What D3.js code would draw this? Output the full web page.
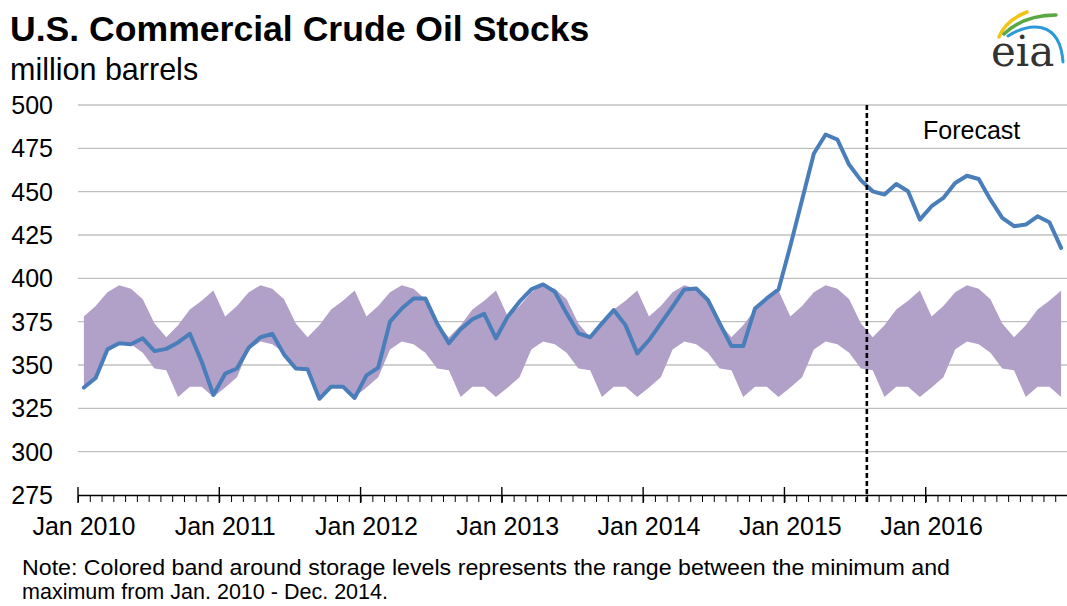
<!DOCTYPE html>
<html>
<head>
<meta charset="utf-8">
<script src="https://cdn.jsdelivr.net/npm/d3@7"></script>
<style>
  html, body { margin: 0; padding: 0; background: #fff; }
  svg { display: block; font-family: Arial, "Liberation Sans", sans-serif; }
</style>
</head>
<body>
<svg id="chart" width="1067" height="606"></svg>
<script>
// ---------------- DATA ----------------
const years = [2010, 2011, 2012, 2013, 2014, 2015, 2016];
const monthNames = ["Jan","Feb","Mar","Apr","May","Jun","Jul","Aug","Sep","Oct","Nov","Dec"];
const months = years.flatMap(yr => monthNames.map(m => m + " " + yr));

// U.S. commercial crude oil stocks (million barrels), Jan 2010 - Dec 2016
const stocks = [
  337.0, 342.5, 359.0, 362.5, 362.0, 365.4, 358.0, 359.3, 363.0, 368.0, 352.0, 332.7,
  345.0, 348.0, 360.0, 366.0, 368.0, 356.0, 348.0, 347.5, 330.5, 337.5, 337.5, 331.0,
  344.0, 348.5, 375.0, 382.6, 388.4, 388.4, 374.0, 362.5, 370.6, 376.4, 379.5, 365.4,
  377.9, 386.5, 393.6, 396.5, 392.3, 379.8, 368.3, 366.0, 374.0, 381.7, 373.0, 356.7,
  364.4, 374.0, 383.7, 393.6, 394.2, 387.5, 374.0, 360.9, 360.9, 382.6, 388.4, 393.6,
  418.6, 445.4, 472.0, 483.0, 480.0, 465.5, 456.5, 450.2, 448.3, 454.4, 450.2, 433.9,
  441.6, 446.4, 455.0, 459.2, 457.3, 445.4, 434.9, 430.1, 431.0, 435.8, 432.4, 417.6
];

// Range of stocks by calendar month, Jan 2010 - Dec 2014
const bandMax = [378, 384, 392, 396, 394, 388, 374, 366, 373, 382, 387, 393];
const bandMin = [337, 343, 359, 363.5, 362, 357, 348, 347, 331.5, 337.5, 337.5, 331.5];

const yTicks = [275, 300, 325, 350, 375, 400, 425, 450, 475, 500];
const xLabels = years.map(yr => "Jan " + yr);
const forecastStart = "Aug 2015";

const title = "U.S. Commercial Crude Oil Stocks";
const subtitle = "million barrels";
const noteLines = [
  "Note:  Colored band around storage levels represents the range between the minimum and",
  "maximum from Jan. 2010 - Dec. 2014."
];

// ---------------- CHART ----------------
(function () {
const svg = d3.select("#chart");
const pl = 78, pr = 1067, pt = 105, pb = 495;

const x = d3.scaleBand().domain(months).range([pl, pr]).padding(0);
const bw = x.bandwidth();
const cx = m => x(m) + bw / 2;
const y = d3.scaleLinear().domain([275, 500]).range([pb, pt]);

svg.append("rect").attr("width", 1067).attr("height", 606).attr("fill", "#fff");

// gridlines
svg.append("g").selectAll("line")
  .data(yTicks.filter(t => t > 275))
  .join("line")
  .attr("x1", pl).attr("x2", pr)
  .attr("y1", d => y(d)).attr("y2", d => y(d))
  .attr("stroke", "#c0c0c0").attr("stroke-width", 1.4);

// y labels
svg.append("g").selectAll("text")
  .data(yTicks)
  .join("text")
  .attr("x", 53).attr("y", d => y(d) + 9)
  .attr("text-anchor", "end")
  .attr("font-size", 25).attr("fill", "#000")
  .text(d => d);

// band
const bandData = months.map((m, i) => ({ m, lo: bandMin[i % 12], hi: bandMax[i % 12] }));
svg.append("path")
  .datum(bandData)
  .attr("fill", "#b1a0c7")
  .attr("d", d3.area().x(d => cx(d.m)).y0(d => y(d.lo)).y1(d => y(d.hi)));

// stock line
svg.append("path")
  .datum(months.map((m, i) => ({ m, v: stocks[i] })))
  .attr("fill", "none")
  .attr("stroke", "#4a7ebb")
  .attr("stroke-width", 4)
  .attr("stroke-linejoin", "round")
  .attr("stroke-linecap", "round")
  .attr("d", d3.line().x(d => cx(d.m)).y(d => y(d.v)));

// x axis (month boundaries)
const xIdx = d3.scaleLinear().domain([0, months.length]).range([pl, pr]);
const axisG = svg.append("g").attr("transform", `translate(0,${pb})`)
  .call(d3.axisBottom(xIdx).tickValues(d3.range(0, months.length + 1)).tickSize(7).tickSizeOuter(0).tickFormat(""));
axisG.select(".domain").attr("stroke", "#000").attr("stroke-width", 1.6);
axisG.selectAll(".tick line").attr("stroke", "#000").attr("stroke-width", 1);

// major ticks at January
svg.append("g").selectAll("line")
  .data(xLabels)
  .join("line")
  .attr("x1", d => x(d)).attr("x2", d => x(d))
  .attr("y1", pb - 8).attr("y2", pb + 8)
  .attr("stroke", "#000").attr("stroke-width", 1.4);

// x labels
svg.append("g").selectAll("text")
  .data(xLabels)
  .join("text")
  .attr("x", d => cx(d)).attr("y", 535)
  .attr("text-anchor", "middle")
  .attr("font-size", 25).attr("fill", "#000")
  .text(d => d);

// forecast divider
svg.append("line")
  .attr("x1", x(forecastStart)).attr("x2", x(forecastStart))
  .attr("y1", pt).attr("y2", pb + 7)
  .attr("stroke", "#000").attr("stroke-width", 2.6)
  .attr("stroke-dasharray", "5,3");

svg.append("text")
  .attr("x", 923).attr("y", 139)
  .attr("font-size", 25).attr("fill", "#000")
  .text("Forecast");

// titles
svg.append("text").attr("x", 10).attr("y", 41)
  .attr("font-size", 35.6).attr("font-weight", "bold").attr("fill", "#000")
  .text(title);
svg.append("text").attr("x", 10).attr("y", 80)
  .attr("font-size", 30.5).attr("fill", "#000")
  .text(subtitle);

// note
const noteWidths = [928, 366];
svg.append("g").selectAll("text")
  .data(noteLines)
  .join("text")
  .attr("x", 22).attr("y", (d, i) => 575 + i * 24)
  .attr("font-size", 22).attr("fill", "#000")
  .attr("textLength", (d, i) => noteWidths[i])
  .attr("lengthAdjust", "spacingAndGlyphs")
  .text(d => d);

// eia logo
const logo = svg.append("g");
logo.append("path").attr("d", "M999 37 Q1006 20 1027 12").attr("fill", "none")
  .attr("stroke", "#f2c418").attr("stroke-width", 3.5).attr("stroke-linecap", "round");
logo.append("path").attr("d", "M1004 34 Q1024 15 1056 15").attr("fill", "none")
  .attr("stroke", "#5aa844").attr("stroke-width", 3.5).attr("stroke-linecap", "round");
logo.append("path").attr("d", "M1008 36 C1030 22, 1060 20, 1063 62").attr("fill", "none")
  .attr("stroke", "#2a9ad8").attr("stroke-width", 3).attr("stroke-linecap", "round");
logo.append("text").attr("x", 991).attr("y", 66)
  .attr("font-family", "'DejaVu Serif', serif").attr("font-size", 42).attr("fill", "#333")
  .text("eia");
})();
</script>
</body>
</html>
